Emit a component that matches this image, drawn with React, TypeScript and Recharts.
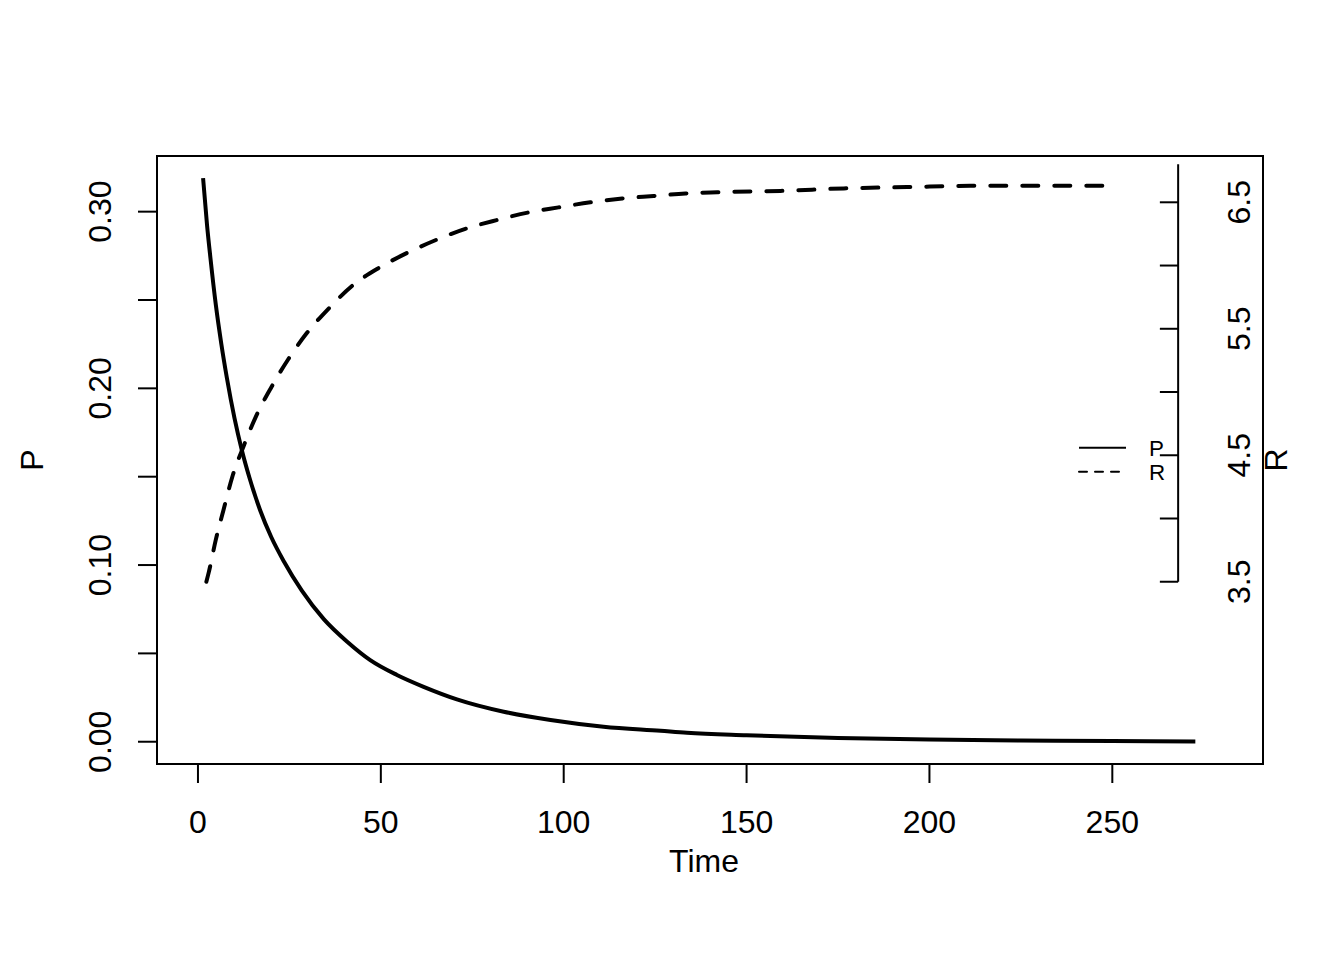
import {
  ComposedChart,
  Line,
  XAxis,
  YAxis,
  ReferenceLine,
  ReferenceArea,
  Legend,
} from "recharts";

// P curve (time, value)
const P_TIME = [
  1.4, 2.5, 3.4, 4.9, 6.4, 7.9, 10, 12, 14, 17, 20, 23.5, 28.4, 34.4, 40.8,
  47.1, 54.4, 61.7, 70.8, 83.6, 96.4, 110.9, 126.5, 133.7, 150, 175, 200, 225,
  250, 272.7,
];
const P_VALUES = [
  0.319, 0.292, 0.274, 0.247, 0.225, 0.206, 0.183, 0.165, 0.15, 0.131, 0.116,
  0.102, 0.0855, 0.0694, 0.0566, 0.0462, 0.0378, 0.0311, 0.024, 0.017, 0.0123,
  0.0085, 0.0062, 0.0051, 0.0037, 0.0021, 0.0012, 0.0007, 0.0004, 0.0002,
];

// R curve (right axis)
const R_TIME = [
  2.3, 3.0, 4.9, 7.0, 9.4, 12.5, 15.9, 20.1, 24.6, 29.6, 35.6, 42.6, 49.4,
  57.2, 64.9, 73.1, 81.8, 90.4, 98.6, 107.3, 116, 124.6, 133.3, 142, 159.3,
  176.6, 193.9, 211.2, 228.6, 249.5,
];
const R_VALUES = [
  3.5, 3.58, 3.835, 4.07, 4.33, 4.573, 4.81, 5.04, 5.255, 5.46, 5.656, 5.85,
  5.98, 6.1, 6.2, 6.29, 6.36, 6.42, 6.46, 6.5, 6.53, 6.55, 6.57, 6.58, 6.59,
  6.61, 6.62, 6.63, 6.63, 6.63,
];

const X_TICKS = [0, 50, 100, 150, 200, 250];
const P_TICKS = [0, 0.05, 0.1, 0.15, 0.2, 0.25, 0.3];
const R_TICKS = [3.5, 4, 4.5, 5, 5.5, 6, 6.5];

// axis ranges (R pads the data range by 4%)
const X_DOMAIN = [-11.2, 291.2];
const P_DOMAIN = [-0.0126, 0.3315];
const R_DOMAIN = [2.059, 6.866];

// the R axis is drawn inside the plot, at this time value
const R_AXIS_AT = 268;
const R_AXIS_TOP = 6.8;
const R_TICK_LEN = 5;

const FONT = "'Liberation Sans', Arial, Helvetica, sans-serif";
const INK = "#000";
const AXIS_LINE = { stroke: INK, strokeWidth: 2, strokeLinecap: "square" as const };
const TICK_LINE = { stroke: INK, strokeWidth: 2 };

const pSeries = P_TIME.map((t, i) => ({ t, p: P_VALUES[i] }));
const rSeries = R_TIME.map((t, i) => ({ t, r: R_VALUES[i] }));

function XTick(props: any) {
  const { x, y, payload } = props;
  return (
    <text x={x} y={y} dy="0.71em" textAnchor="middle" fontSize={32} fontFamily={FONT} fill={INK}>
      {payload.value}
    </text>
  );
}

function rotatedText(x: number, y: number, text: string, size = 32) {
  return (
    <text
      x={x}
      y={y}
      transform={`rotate(-90 ${x} ${y})`}
      textAnchor="middle"
      fontSize={size}
      fontFamily={FONT}
      fill={INK}
    >
      {text}
    </text>
  );
}

function PTick(props: any) {
  const { x, y, payload, index } = props;
  // R skips labels that would overlap: only every other tick is labelled
  if (index % 2 !== 0) return <g />;
  return rotatedText(x, y, Number(payload.value).toFixed(2));
}

function LegendBox() {
  return (
    <svg width={140} height={60}>
      <line x1={9} x2={56} y1={17.7} y2={17.7} stroke={INK} strokeWidth={2} />
      <line
        x1={9}
        x2={56}
        y1={41.7}
        y2={41.7}
        stroke={INK}
        strokeWidth={2}
        strokeDasharray="8 8"
        strokeLinecap="round"
      />
      <text x={79} y={26} fontSize={22.4} fontFamily={FONT} fill={INK}>P</text>
      <text x={79} y={50} fontSize={22.4} fontFamily={FONT} fill={INK}>R</text>
    </svg>
  );
}

export default function App() {
  return (
    <div style={{ position: "absolute", left: 0, top: 0, width: 1344, height: 960, background: "#fff" }}>
      <ComposedChart width={1344} height={960} margin={{ top: 156, right: 81, bottom: 136, left: 97 }}>
        <XAxis
          dataKey="t"
          type="number"
          domain={X_DOMAIN}
          ticks={X_TICKS}
          allowDataOverflow
          height={60}
          tickSize={19}
          tickMargin={27}
          tick={XTick}
          tickLine={TICK_LINE}
          axisLine={AXIS_LINE}
          label={(p: any) => (
            <text
              x={p.viewBox.x + p.viewBox.width / 2 - 6}
              y={p.viewBox.y + 108}
              textAnchor="middle"
              fontSize={32}
              fontFamily={FONT}
              fill={INK}
            >
              Time
            </text>
          )}
        />
        <YAxis
          yAxisId="P"
          type="number"
          domain={P_DOMAIN}
          ticks={P_TICKS}
          allowDataOverflow
          width={60}
          tickSize={19}
          tickMargin={27}
          tick={PTick}
          tickLine={TICK_LINE}
          axisLine={AXIS_LINE}
          label={(p: any) =>
            rotatedText(p.viewBox.x + p.viewBox.width - 114.3, p.viewBox.y + p.viewBox.height / 2, "P")
          }
        />
        <YAxis yAxisId="R" type="number" domain={R_DOMAIN} allowDataOverflow hide />

        {/* plot box, with the right-hand axis title beside it */}
        <ReferenceArea
          yAxisId="P"
          x1={X_DOMAIN[0]}
          x2={X_DOMAIN[1]}
          y1={P_DOMAIN[0]}
          y2={P_DOMAIN[1]}
          fill="none"
          stroke={INK}
          strokeWidth={2}
          ifOverflow="visible"
          label={(p: any) =>
            rotatedText(p.viewBox.x + p.viewBox.width + 24, p.viewBox.y + p.viewBox.height / 2, "R")
          }
        />

        <ReferenceLine
          yAxisId="R"
          segment={[
            { x: R_AXIS_AT, y: R_TICKS[0] },
            { x: R_AXIS_AT, y: R_AXIS_TOP },
          ]}
          stroke={INK}
          strokeWidth={2}
          ifOverflow="visible"
        />
        {R_TICKS.map((v, i) => (
          <ReferenceLine
            key={v}
            yAxisId="R"
            segment={[
              { x: R_AXIS_AT - R_TICK_LEN, y: v },
              { x: R_AXIS_AT, y: v },
            ]}
            stroke={INK}
            strokeWidth={2}
            ifOverflow="visible"
            label={
              i % 2 === 0
                ? (p: any) => rotatedText(p.viewBox.x + p.viewBox.width + 72, p.viewBox.y, v.toFixed(1))
                : undefined
            }
          />
        ))}

        <Line
          data={pSeries}
          dataKey="p"
          name="P"
          yAxisId="P"
          type="monotone"
          stroke={INK}
          strokeWidth={4}
          strokeLinejoin="round"
          dot={false}
          activeDot={false}
          isAnimationActive={false}
        />
        <Line
          data={rSeries}
          dataKey="r"
          name="R"
          yAxisId="R"
          type="monotone"
          stroke={INK}
          strokeWidth={4}
          strokeDasharray="16 16"
          strokeLinecap="round"
          dot={false}
          activeDot={false}
          isAnimationActive={false}
        />

        <Legend
          layout="horizontal"
          verticalAlign="middle"
          align="center"
          wrapperStyle={{ position: "absolute", left: 1070, top: 430, width: 140, height: 60 }}
          content={LegendBox}
        />
      </ComposedChart>
    </div>
  );
}
